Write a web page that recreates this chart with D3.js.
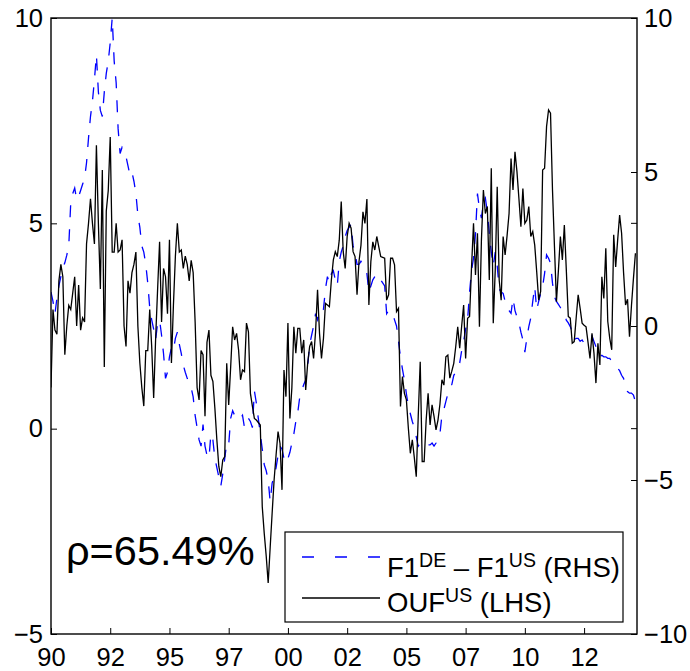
<!DOCTYPE html>
<html>
<head>
<meta charset="utf-8">
<script src="https://cdn.jsdelivr.net/npm/d3@7"></script>
<style>
  html, body { margin: 0; padding: 0; background: #fff; }
  svg { display: block; font-family: "Liberation Sans", Arial, Helvetica, sans-serif; }
</style>
</head>
<body>
<svg id="chart" width="690" height="671"></svg>
<script>
// Monthly series, January 1990 onwards.
const startYear = 1990;

// OUF (US), left-hand scale
const oufUS = [
  1.0, 2.9, 2.4, 2.3, 3.6, 4.0, 3.7, 1.8, 2.5, 3.0, 2.9, 3.3,
  3.7, 2.5, 3.5, 2.4, 2.7, 2.6, 4.5, 5.0, 5.6, 5.0, 4.5, 6.9,
  5.0, 3.4, 6.3, 1.5, 5.3, 5.8, 7.1, 4.3, 4.3, 5.0, 4.3, 4.35,
  4.6, 2.5, 2.0, 3.6, 3.3, 3.8, 4.0, 4.3, 2.5, 1.6, 1.0, 0.55,
  1.9, 1.9, 2.9, 2.0, 0.75, 2.2, 3.4, 4.55, 2.6, 3.9, 3.7, 2.8,
  4.6, 1.6, 3.0, 4.2, 5.0, 4.3, 4.35, 3.9, 4.2, 4.0, 3.6, 4.1,
  3.8, 2.6, 1.0, 0.7, 1.9, 1.8, 0.3, 2.1, 2.4, 1.3, 1.15, 0.5,
  -0.27, -0.92, -1.17, -0.76, -0.68, 1.59, 0.58, 1.5, 2.48, 2.16, 2.32, 1.92,
  1.19, 1.43, 1.39, 2.57, 2.36, 0.86, 0.55, 0.25, 0.21, 0.15, 0.09, -1.9,
  -2.55, -3.1, -3.76, -2.9, -2.06, -1.25, -0.64, -0.07, -0.36, -1.49, 1.43, 0.78,
  2.57, 0.25, 1.0, 2.48, 1.84, 2.44, 2.44, 1.84, 2.16, 0.94, 1.59, 2.0,
  2.12, 1.71, 2.36, 3.38, 2.32, 1.71, 2.2, 3.05, 3.01, 2.97, 3.62, 4.11,
  4.31, 4.19, 4.59, 5.53, 4.31, 3.9, 4.68, 5.0, 4.88, 4.31, 4.19, 3.26,
  4.07, 4.47, 5.28, 5.0, 5.59, 3.01, 4.07, 4.55, 4.35, 4.68, 4.43, 4.19,
  4.17, 4.15, 3.13, 3.26, 4.15, 4.15, 3.99, 2.85, 2.93, 0.54, 1.27, 0.86,
  0.70, 0.01, -0.6, -0.27, -0.7, -1.17, 0.3, 1.63, -0.8, -0.8, 0.2, 0.86,
  0.09, 0.58, 0.3, -0.03, 0.21, 0.6, 1.19, 1.06, 1.75, 1.79, 1.23, 1.4,
  1.59, 2.0, 2.48, 1.96, 2.5, 3.01, 1.71, 2.69, 2.73, 3.94, 5.0, 3.74,
  4.76, 2.48, 4.59, 5.81, 5.24, 5.41, 3.62, 6.34, 2.57, 3.86, 5.89, 3.62,
  3.13, 4.68, 4.23, 4.7, 5.24, 6.58, 5.81, 6.74, 6.26, 5.6, 4.92, 5.85,
  5.0, 5.08, 5.41, 4.68, 4.8, 4.47, 3.82, 3.13, 3.34, 6.30, 6.34, 7.36,
  7.76, 7.68, 5.81, 4.43, 3.09, 3.86, 4.68, 4.11, 4.96, 3.86, 2.73, 2.69,
  2.08, 2.12, 2.7, 3.26, 2.93, 2.57, 2.52, 2.48, 2.1, 1.71, 2.32, 1.84,
  1.11, 2.08, 1.55, 3.70, 3.17, 4.39, 2.61, 2.2, 1.92, 4.72, 3.94, 4.59,
  5.2, 4.76, 3.8, 3.01, 3.15, 2.24, 3.0, 3.66, 4.27
];

// F1(DE) - F1(US), right-hand scale
const f1Spread = [
  1.1, 0.8, 0.4, 0.9, 1.3, 1.6, 1.9, 2.05, 2.3, 2.6, 4.0, 4.3,
  4.48, 4.1, 4.2, 4.4, 4.6, 4.8, 5.3, 6.1, 6.8, 7.3, 8.0, 8.8,
  7.6, 7.0, 6.8, 7.6, 8.2, 8.6, 9.2, 10.0, 8.6, 7.9, 6.4, 5.6,
  5.8, 5.7, 5.5, 5.2, 4.9, 5.0, 4.7, 4.3, 3.6, 3.2, 2.6, 2.4,
  2.0, 1.4, 0.6, 0.2, -0.1, -0.45, 0.1, 0.2, -0.3, -0.9, -1.7, -1.5,
  -1.0, -0.7, -0.8, -0.4, -0.2, -0.6, -0.9, -1.27, -1.5, -1.7, -1.85, -2.0,
  -2.3, -2.9, -3.3, -3.7, -3.9, -3.2, -3.9, -4.2, -4.3, -3.5, -3.7, -4.3,
  -4.6, -4.9, -5.2, -4.8, -4.3, -3.8, -3.86, -3.0, -2.75, -2.9, -3.0, -3.05,
  -3.0, -2.9, -3.3, -3.1, -3.0, -3.1, -3.3, -2.1, -2.5, -3.0, -3.5, -4.0,
  -4.5, -4.7, -5.0, -5.7, -5.1, -4.9, -4.6, -4.2, -3.9, -4.0, -4.3, -4.45,
  -4.3, -4.1, -3.8, -3.5, -3.1, -2.8, -2.3, -2.1, -1.9, -1.75, -1.3, -0.6,
  -0.3, 0.0, 0.4, 0.2, 0.5, 0.6, 0.55, 1.2, 1.6, 1.4, 1.7, 1.8,
  1.5, 1.3, 2.1, 2.4, 2.6, 2.9, 3.1, 3.2, 3.3, 2.6, 2.4, 2.0,
  2.0, 2.1, 2.0, 1.9, 1.7, 1.1, 1.3, 1.5, 1.6, 1.7, 1.6, 1.5,
  1.4, 1.3, 0.4, 0.5, 0.5, 0.4, 0.2, 0.0, -0.5, -1.0, -1.4, -1.75,
  -2.2, -2.6, -2.85, -3.1, -3.3, -3.6, -3.9, -3.8, -3.75, -3.76, -3.8, -3.86,
  -3.86, -3.8, -3.9, -3.8, -3.6, -3.5, -2.9, -2.7, -2.45, -2.2, -2.0, -1.9,
  -1.6, -1.5, -1.3, -1.2, -0.8, -0.5, -0.1, 0.2, 1.1, 1.8, 2.2, 3.0,
  4.3, 3.8, 3.5, 4.0, 4.15, 3.7, 3.0, 2.4, 1.95, 2.4, 1.95, 1.2,
  1.1, 1.06, 0.8, 0.57, 0.5, 0.41, 0.9, 0.5, 0.3, 0.1, -0.2, -0.45,
  -0.85, -0.4, -0.02, 0.26, 0.8, 1.28, 0.52, 0.8, 1.06, 1.28, 1.71, 2.31,
  2.2, 2.04, 1.39, 0.95, 0.8, 0.7, 0.6, 0.5, 0.41, 0.19, 0.1, -0.02,
  -0.2, -0.45, -0.4, -0.4, -0.5, -0.45, -0.56, -0.5, -0.45, -0.4, -0.32, -0.5,
  -0.67, -0.85, -1.0, -0.95, -1.0, -1.0, -1.05, -1.05, -1.15, -1.21, -1.27, -1.37,
  -1.45, -1.6, -1.7, -2.0, -2.13, -2.18, -2.18, -2.24, -2.46
];

// Axis ticks
const xTickYears  = [1990, 1992.5, 1995, 1997.5, 2000, 2002.5, 2005, 2007.5, 2010, 2012.5];
const xTickLabels = ["90", "92", "95", "97", "00", "02", "05", "07", "10", "12"];
const leftTicks   = [-5, 0, 5, 10];
const rightTicks  = [-10, -5, 0, 5, 10];
const corrLabel   = "\u03C1=65.49%";

// ---- layout ----
const plot = { left: 51, right: 637, top: 18, bottom: 634 };
const endYear = startYear + 296.8 / 12;

const x  = d3.scaleLinear().domain([startYear, endYear]).range([plot.left, plot.right]);
const yL = d3.scaleLinear().domain([-5, 10]).range([plot.bottom, plot.top]);
const yR = d3.scaleLinear().domain([-10, 10]).range([plot.bottom, plot.top]);

const svg = d3.select("#chart");
const fmtTick = v => (v < 0 ? "\u2212" + Math.abs(v) : String(v));

svg.append("defs").append("clipPath").attr("id", "plot-clip")
  .append("rect")
  .attr("x", plot.left).attr("y", plot.top)
  .attr("width", plot.right - plot.left).attr("height", plot.bottom - plot.top);

const monthYear = i => startYear + i / 12;
const SERIES_DASH = "12,12";
const LEGEND_DASH = "12,21";

// series
const gSeries = svg.append("g").attr("clip-path", "url(#plot-clip)");

gSeries.append("path")
  .datum(f1Spread)
  .attr("fill", "none")
  .attr("stroke", "#0000ff")
  .attr("stroke-width", 1.3)
  .attr("stroke-dasharray", SERIES_DASH)
  .attr("d", d3.line().x((d, i) => x(monthYear(i))).y(d => yR(d)));

gSeries.append("path")
  .datum(oufUS)
  .attr("fill", "none")
  .attr("stroke", "#000")
  .attr("stroke-width", 1.3)
  .attr("stroke-linejoin", "miter")
  .attr("d", d3.line().x((d, i) => x(monthYear(i))).y(d => yL(d)));

// frame
svg.append("rect")
  .attr("x", plot.left).attr("y", plot.top)
  .attr("width", plot.right - plot.left).attr("height", plot.bottom - plot.top)
  .attr("fill", "none").attr("stroke", "#000").attr("stroke-width", 1.4);

const tickLen = 6;
const axisFont = 25.5;
const styleAxis = g => {
  g.select(".domain").remove();
  g.selectAll("line").attr("stroke", "#000").attr("stroke-width", 1);
  g.selectAll("text").attr("font-size", axisFont).attr("fill", "#000")
    .attr("font-family", "Liberation Sans, Arial, sans-serif");
};

// bottom axis
const xAxis = d3.axisBottom(x)
  .tickValues(xTickYears)
  .tickFormat((d, i) => xTickLabels[i])
  .tickSizeInner(-tickLen).tickSizeOuter(0).tickPadding(14);
svg.append("g").attr("transform", `translate(0,${plot.bottom})`).call(xAxis).call(styleAxis);

// left axis
const yAxisL = d3.axisLeft(yL)
  .tickValues(leftTicks).tickFormat(fmtTick)
  .tickSizeInner(-tickLen).tickSizeOuter(0).tickPadding(8);
svg.append("g").attr("transform", `translate(${plot.left},0)`).call(yAxisL).call(styleAxis);

// left ticks repeated on the right edge
svg.append("g").selectAll("line").data(leftTicks.filter(v => v > -5 && v < 10)).join("line")
  .attr("x1", plot.right - tickLen).attr("x2", plot.right)
  .attr("y1", d => yL(d)).attr("y2", d => yL(d))
  .attr("stroke", "#000").attr("stroke-width", 1);

// right axis
const yAxisR = d3.axisRight(yR)
  .tickValues(rightTicks).tickFormat(fmtTick)
  .tickSizeInner(-tickLen).tickSizeOuter(0).tickPadding(7);
svg.append("g").attr("transform", `translate(${plot.right},0)`).call(yAxisR).call(styleAxis);

// correlation label
svg.append("text")
  .attr("x", 66).attr("y", 565)
  .attr("font-size", 41.5).attr("fill", "#000")
  .text(corrLabel);

// legend
const leg = { x: 285, y: 532, w: 338, h: 90 };
const gLeg = svg.append("g");
gLeg.append("rect")
  .attr("x", leg.x).attr("y", leg.y).attr("width", leg.w).attr("height", leg.h)
  .attr("fill", "#fff").attr("stroke", "#000").attr("stroke-width", 1.2);

const legFont = 27.5, supFont = 19.5, supShift = 10;
const items = [
  { lineY: 557, textY: 577, color: "#0000ff", dash: LEGEND_DASH,
    parts: [["F1", 0], ["DE", 1], [" \u2013 F1", 0], ["US", 1], [" (RHS)", 0]] },
  { lineY: 598, textY: 612, color: "#000", dash: null,
    parts: [["OUF", 0], ["US", 1], [" (LHS)", 0]] }
];
items.forEach(it => {
  gLeg.append("line")
    .attr("x1", 302).attr("x2", 380).attr("y1", it.lineY).attr("y2", it.lineY)
    .attr("stroke", it.color).attr("stroke-width", 1.3)
    .attr("stroke-dasharray", it.dash);
  const t = gLeg.append("text").attr("x", 387).attr("y", it.textY)
    .attr("font-size", legFont).attr("fill", "#000");
  let prevSup = 0;
  it.parts.forEach(([s, sup]) => {
    const dy = sup && !prevSup ? -supShift : (!sup && prevSup ? supShift : 0);
    t.append("tspan").attr("dy", dy).attr("font-size", sup ? supFont : legFont)
      .style("white-space", "pre").text(s);
    prevSup = sup;
  });
});
</script>
</body>
</html>
